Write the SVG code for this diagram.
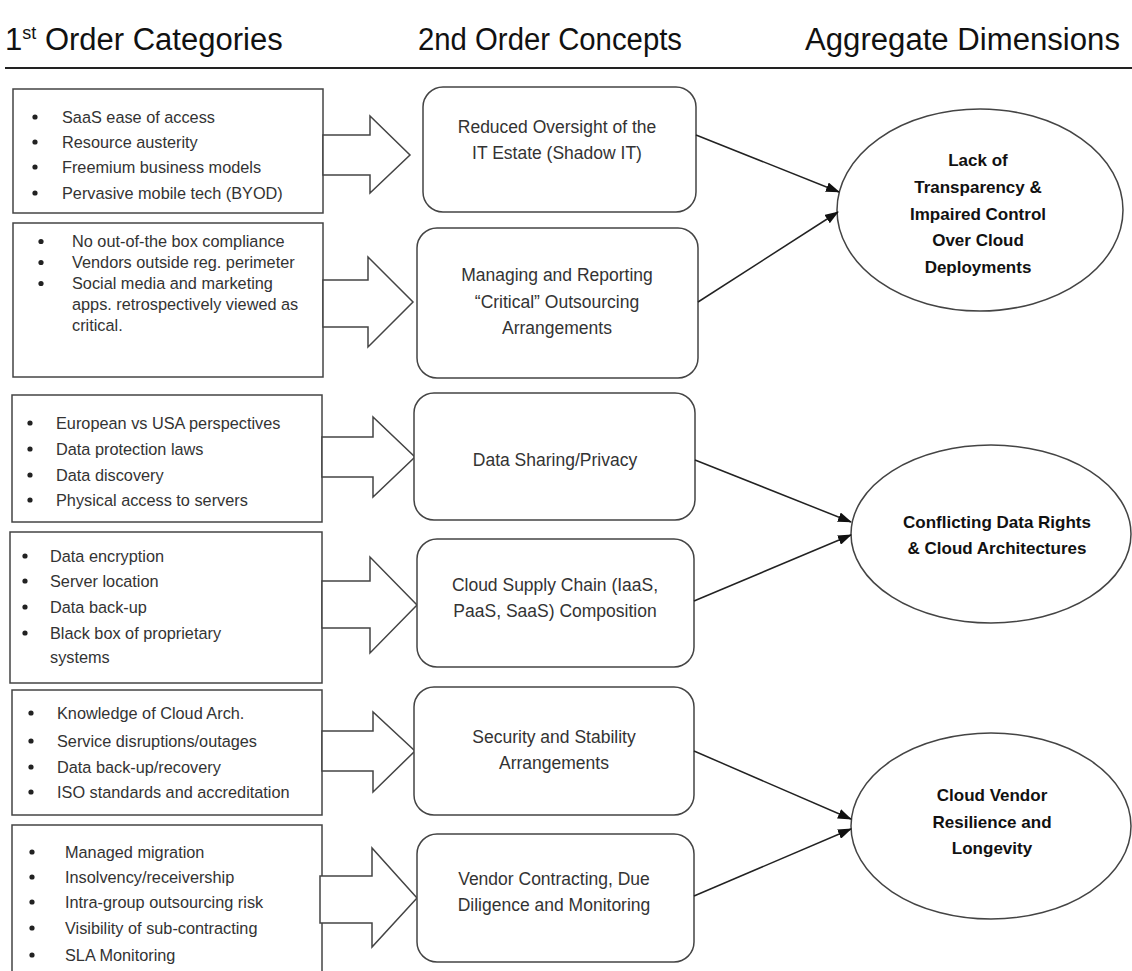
<svg xmlns="http://www.w3.org/2000/svg" width="1132" height="971" viewBox="0 0 1132 971">
<defs>
<style>
.hdr{font-family:"Liberation Sans",Arial,sans-serif;font-size:31px;fill:#111}
.lt{font-family:"Liberation Sans",Arial,sans-serif;font-size:16.3px;fill:#333}
.mt{font-family:"Liberation Sans",Arial,sans-serif;font-size:17.5px;fill:#333;text-anchor:middle}
.et{font-family:"Liberation Sans",Arial,sans-serif;font-size:17px;font-weight:bold;fill:#111;text-anchor:middle}
.box{fill:#fff;stroke:#444;stroke-width:1.5}
.blk{fill:#fff;stroke:#444;stroke-width:1.5;stroke-linejoin:miter}
.con{stroke:#222;stroke-width:1.5;fill:none}
.bul{fill:#222}
</style>
<marker id="ah" markerWidth="14" markerHeight="10" refX="13" refY="5" orient="auto" markerUnits="userSpaceOnUse">
<path d="M0,0 L14,5 L0,10 Z" fill="#111"/>
</marker>
</defs>
<rect width="1132" height="971" fill="#fff"/>

<g id="header">
<text class="hdr" x="5" y="50">1<tspan font-size="18" dy="-11">st</tspan><tspan dy="11"> Order Categories</tspan></text>
<text class="hdr" x="418" y="50" textLength="264" lengthAdjust="spacingAndGlyphs">2nd Order Concepts</text>
<text class="hdr" x="805" y="50" textLength="315" lengthAdjust="spacingAndGlyphs">Aggregate Dimensions</text>
<line x1="5" y1="68" x2="1132" y2="68" stroke="#222" stroke-width="2"/>
</g>

<g id="cat1">
<rect class="box" x="13" y="89" width="310" height="124"/>
<g class="bul"><circle cx="35" cy="117" r="2.6"/><circle cx="35" cy="142" r="2.6"/><circle cx="35" cy="167" r="2.6"/><circle cx="35" cy="193" r="2.6"/></g>
<g class="lt">
<text x="62" y="122.5">SaaS ease of access</text>
<text x="62" y="147.5">Resource austerity</text>
<text x="62" y="172.5">Freemium business models</text>
<text x="62" y="198.5">Pervasive mobile tech (BYOD)</text>
</g>
</g>

<g id="cat2">
<rect class="box" x="13" y="223" width="310" height="154"/>
<g class="bul"><circle cx="41" cy="241.5" r="2.6"/><circle cx="41" cy="262.5" r="2.6"/><circle cx="41" cy="283.5" r="2.6"/></g>
<g class="lt">
<text x="72" y="247">No out-of-the box compliance</text>
<text x="72" y="268">Vendors outside reg. perimeter</text>
<text x="72" y="289">Social media and marketing</text>
<text x="72" y="310">apps. retrospectively viewed as</text>
<text x="72" y="331">critical.</text>
</g>
</g>

<g id="cat3">
<rect class="box" x="12" y="395" width="310" height="127"/>
<g class="bul"><circle cx="30" cy="423" r="2.6"/><circle cx="30" cy="449" r="2.6"/><circle cx="30" cy="475" r="2.6"/><circle cx="30" cy="500" r="2.6"/></g>
<g class="lt">
<text x="56" y="428.5">European vs USA perspectives</text>
<text x="56" y="454.5">Data protection laws</text>
<text x="56" y="480.5">Data discovery</text>
<text x="56" y="505.5">Physical access to servers</text>
</g>
</g>

<g id="cat4">
<rect class="box" x="10" y="532" width="312" height="151"/>
<g class="bul"><circle cx="25" cy="556" r="2.6"/><circle cx="25" cy="581" r="2.6"/><circle cx="25" cy="607" r="2.6"/><circle cx="25" cy="633" r="2.6"/></g>
<g class="lt">
<text x="50" y="561.5">Data encryption</text>
<text x="50" y="586.5">Server location</text>
<text x="50" y="612.5">Data back-up</text>
<text x="50" y="638.5">Black box of proprietary</text>
<text x="50" y="662.5">systems</text>
</g>
</g>

<g id="cat5">
<rect class="box" x="12" y="690" width="310" height="125"/>
<g class="bul"><circle cx="31" cy="713" r="2.6"/><circle cx="31" cy="741" r="2.6"/><circle cx="31" cy="767" r="2.6"/><circle cx="31" cy="792" r="2.6"/></g>
<g class="lt">
<text x="57" y="718.5">Knowledge of Cloud Arch.</text>
<text x="57" y="746.5">Service disruptions/outages</text>
<text x="57" y="772.5">Data back-up/recovery</text>
<text x="57" y="797.5">ISO standards and accreditation</text>
</g>
</g>

<g id="cat6">
<rect class="box" x="12" y="825" width="310" height="155"/>
<g class="bul"><circle cx="32" cy="852" r="2.6"/><circle cx="32" cy="877" r="2.6"/><circle cx="32" cy="902" r="2.6"/><circle cx="32" cy="928" r="2.6"/><circle cx="32" cy="955" r="2.6"/></g>
<g class="lt">
<text x="65" y="857.5">Managed migration</text>
<text x="65" y="882.5">Insolvency/receivership</text>
<text x="65" y="907.5">Intra-group outsourcing risk</text>
<text x="65" y="933.5">Visibility of sub-contracting</text>
<text x="65" y="960.5">SLA Monitoring</text>
</g>
</g>

<g id="block-arrows">
<polygon class="blk" points="323,135 370,135 370,116 410,155 370,193 370,175 323,175"/>
<polygon class="blk" points="323,280 368,280 368,257 413,302 368,347 368,327 323,327"/>
<polygon class="blk" points="322,437 373,437 373,417 415,457 373,497 373,477 322,477"/>
<polygon class="blk" points="322,581 370,581 370,557 417,605 370,653 370,628 322,628"/>
<polygon class="blk" points="322,731 373,731 373,712 415,751 373,792 373,771 322,771"/>
<polygon class="blk" points="320,876 372,876 372,848 417,898 372,947 372,923 320,923"/>
</g>

<g id="con1">
<rect class="box" x="423" y="87" width="273" height="125" rx="20"/>
<text class="mt" x="557" y="133">Reduced Oversight of the</text>
<text class="mt" x="557" y="159">IT Estate (Shadow IT)</text>
</g>
<g id="con2">
<rect class="box" x="417" y="228" width="281" height="150" rx="20"/>
<text class="mt" x="557" y="281">Managing and Reporting</text>
<text class="mt" x="557" y="308">“Critical” Outsourcing</text>
<text class="mt" x="557" y="334">Arrangements</text>
</g>
<g id="con3">
<rect class="box" x="414" y="393" width="281" height="127" rx="20"/>
<text class="mt" x="555" y="466">Data Sharing/Privacy</text>
</g>
<g id="con4">
<rect class="box" x="417" y="539" width="277" height="128" rx="20"/>
<text class="mt" x="555" y="591">Cloud Supply Chain (IaaS,</text>
<text class="mt" x="555" y="617">PaaS, SaaS) Composition</text>
</g>
<g id="con5">
<rect class="box" x="414" y="687" width="280" height="128" rx="20"/>
<text class="mt" x="554" y="743">Security and Stability</text>
<text class="mt" x="554" y="769">Arrangements</text>
</g>
<g id="con6">
<rect class="box" x="417" y="834" width="277" height="128" rx="20"/>
<text class="mt" x="554" y="885">Vendor Contracting, Due</text>
<text class="mt" x="554" y="911">Diligence and Monitoring</text>
</g>

<g id="dim1">
<ellipse class="box" cx="980" cy="210" rx="143" ry="101"/>
<text class="et" x="978" y="166">Lack of</text>
<text class="et" x="978" y="193">Transparency &amp;</text>
<text class="et" x="978" y="220">Impaired Control</text>
<text class="et" x="978" y="246">Over Cloud</text>
<text class="et" x="978" y="273">Deployments</text>
</g>
<g id="dim2">
<ellipse class="box" cx="991" cy="534" rx="140" ry="89"/>
<text class="et" x="997" y="528">Conflicting Data Rights</text>
<text class="et" x="997" y="554">&amp; Cloud Architectures</text>
</g>
<g id="dim3">
<ellipse class="box" cx="991" cy="826" rx="140" ry="93"/>
<text class="et" x="992" y="801">Cloud Vendor</text>
<text class="et" x="992" y="828">Resilience and</text>
<text class="et" x="992" y="854">Longevity</text>
</g>

<g id="connectors">
<line class="con" x1="696" y1="135" x2="839" y2="192" marker-end="url(#ah)"/>
<line class="con" x1="698" y1="302" x2="838" y2="212" marker-end="url(#ah)"/>
<line class="con" x1="695" y1="460" x2="851" y2="522" marker-end="url(#ah)"/>
<line class="con" x1="694" y1="601" x2="851" y2="535" marker-end="url(#ah)"/>
<line class="con" x1="694" y1="751" x2="851" y2="819" marker-end="url(#ah)"/>
<line class="con" x1="694" y1="896" x2="851" y2="829" marker-end="url(#ah)"/>
</g>
</svg>
